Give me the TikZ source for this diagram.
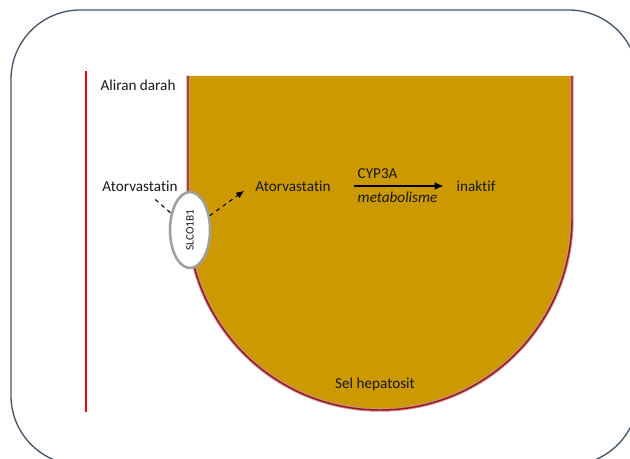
\documentclass[tikz,border=0pt]{standalone}
\usepackage{fontspec}
\setmainfont[Ligatures=NoCommon]{Carlito}
\usepackage{tikz}
\usetikzlibrary{arrows.meta,shapes.geometric,positioning,calc}
\definecolor{cellgold}{RGB}{204,153,0}
\definecolor{framegray}{RGB}{68,84,106}
\definecolor{membred}{RGB}{140,30,30}
\definecolor{membpink}{RGB}{215,140,140}

\begin{document}
\begin{tikzpicture}[x=0.75pt, y=-0.75pt,
  every node/.style={font=\fontsize{11.4}{13}\selectfont, text=black!90},
  transporter/.style={ellipse, draw=gray!75, line width=1.9pt, fill=white,
                      minimum width=57pt, minimum height=30pt, inner sep=0pt,
                      font=\fontsize{8.5}{10}\selectfont},
  arrow/.style={-{Latex[length=7pt,width=6pt]}, line width=1.8pt},
  flow/.style={dashed, line width=0.8pt},
]
\useasboundingbox (0,0) rectangle (630,459);

%% ── Frame ────────────────────────────────────────────────────────────────
\draw[framegray, line width=1pt, rounded corners=52pt] (11,10) rectangle (638,465);

%% ── Blood vessel wall ────────────────────────────────────────────────────
\draw[red, line width=2.2pt] (86,71) -- (86,412);

%% ── Hepatocyte ───────────────────────────────────────────────────────────
\fill[cellgold] (188,76) -- (188,218) arc[start angle=180, end angle=0, radius=192] -- (572,76) -- cycle;
\draw[membpink, line width=2.6pt] (188,76) -- (188,218) arc[start angle=180, end angle=0, radius=192] -- (572,76);
\draw[membred, line width=1.1pt] (188,76) -- (188,218) arc[start angle=180, end angle=0, radius=192] -- (572,76);

%% ── Labels ───────────────────────────────────────────────────────────────
\node (blood) at (138,85) {Aliran darah};
\node (cell) at (375,384) {Sel hepatosit};
\node (drugout) at (140,186) {Atorvastatin};
\node (drugin) at (293,186) {Atorvastatin};
\node (inactive) at (476,186) {inaktif};

% transporter in the membrane
\node[transporter, rotate=90] (slco) at (190,230) {SLCO1B1};

%% ── Transport and metabolism ─────────────────────────────────────────────
\draw[flow, shorten <=4pt] (drugout) -- (slco);
\draw[flow, -{Latex[length=6pt,width=5pt]}, shorten >=6pt] (slco) -- (drugin.west);

\draw[arrow, shorten <=14pt, shorten >=6pt] (drugin.east) -- (inactive.west)
  node[midway, above=1.5pt, xshift=-12pt] (enzyme) {CYP3A}
  node[midway, below=0.5pt, xshift=3pt, font=\fontsize{11.4}{13}\selectfont\itshape] (process) {metabolisme};

\end{tikzpicture}
\end{document}
